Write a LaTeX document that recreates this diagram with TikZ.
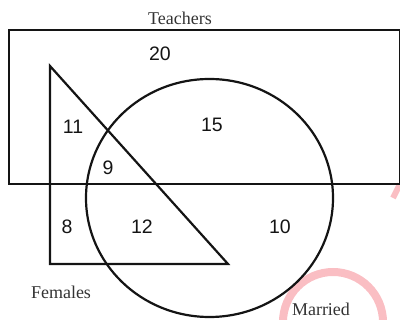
\documentclass[tikz,border=0pt]{standalone}
\usepackage{fontspec}
\setmainfont{Liberation Serif}
\newfontfamily\numfont{Liberation Sans}
\definecolor{wmpink}{RGB}{250,190,195}
\definecolor{ink}{RGB}{20,20,20}
\begin{document}
\begin{tikzpicture}[x=1pt,y=-1pt,
  shapeline/.style={draw=ink,line width=2.2pt},
  numlabel/.style={text=ink,font=\numfont\fontsize{19.5}{22}\selectfont,inner sep=0pt},
  setlabel/.style={text=black!80,font=\fontsize{18}{21}\selectfont,inner sep=0pt}]
\useasboundingbox (0,0) rectangle (400,320);
% watermark
\begin{scope}
\clip (0,0) rectangle (400,320);
\draw[wmpink,line width=8pt] (283,322) arc[start angle=180,end angle=0,radius=50pt];
\draw[wmpink,line width=6pt] (393,198) -- (400,184);
\end{scope}
% Teachers rectangle
\draw[shapeline] (9,30) rectangle (400,184);
% Females triangle
\coordinate (ta) at (50,66);
\coordinate (tb) at (50,264);
\coordinate (tc) at (228,264);
\draw[shapeline,line join=miter] (ta) -- (tb) -- (tc) -- cycle;
% Married circle
\coordinate (mc) at (209.5,198);
\draw[shapeline] (mc) ellipse[x radius=123.5pt,y radius=119pt];
% labels
\node[setlabel] (teachers) at (180,18) {Teachers};
\node[setlabel] (females) at (61,292) {Females};
\node[setlabel,anchor=base] (married) at (321,315.5) {Married};
\node[numlabel] (n20) at (160,54) {20};
\node[numlabel] (n11) at (73,127) {11};
\node[numlabel] (n15) at (212,125) {15};
\node[numlabel] (n9) at (108,168) {9};
\node[numlabel] (n8) at (67,227) {8};
\node[numlabel] (n12) at (142,227) {12};
\node[numlabel] (n10) at (280,227) {10};
\end{tikzpicture}
\end{document}
